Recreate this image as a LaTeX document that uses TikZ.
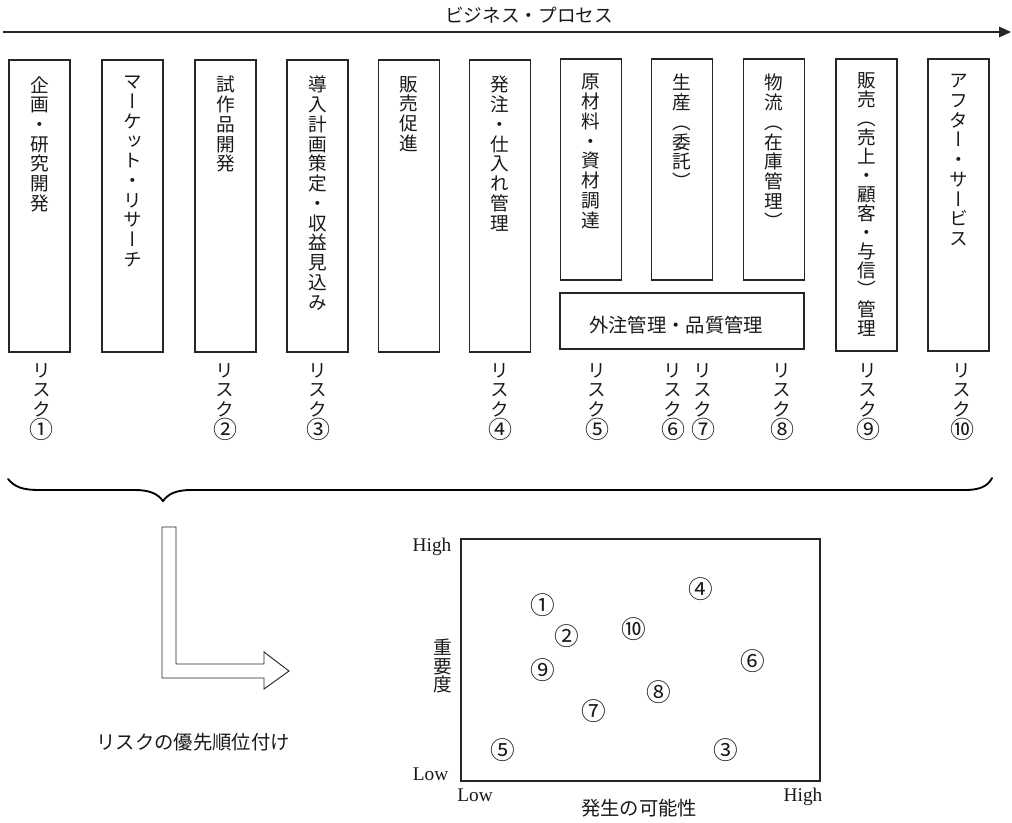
\documentclass[tikz,border=0pt]{standalone}
\usepackage{fontspec}
\setmainfont{Liberation Serif}
\newfontfamily\jp{Noto Sans CJK JP}
\newfontfamily\jpv{Noto Sans CJK JP}[RawFeature=+vert]
\usetikzlibrary{arrows.meta}
\newcommand{\bigc}[1]{{\fontsize{18}{14.8}\selectfont #1}}
\tikzset{
  pbox/.style={draw=black!85, line width=0.9pt, inner sep=0pt, minimum width=45.75pt, minimum height=219pt},
  vtxt/.style={font=\jpv\fontsize{14}{14.8}\selectfont, align=center, inner sep=0pt, anchor=north, text=black!90},
  jtxt/.style={font=\jp\fontsize{14}{16}\selectfont, inner sep=0pt, text=black!90},
  ltxt/.style={font=\fontsize{14.5}{16}\selectfont, inner sep=0pt, text=black!90},
  cnum/.style={font=\jp\fontsize{18.5}{20}\selectfont, inner sep=0pt, text=black!90},
  thin/.style={draw=black!85, line width=0.8pt}
}
\begin{document}
\begin{tikzpicture}[x=0.75pt,y=-0.75pt]
\useasboundingbox (0,0) rectangle (1012,822);

% process arrow
\coordinate (ps) at (3,32);
\coordinate (pe) at (1011,32);
\draw[thin, -{Triangle[length=9pt,width=8pt]}] (ps) -- (pe);
\node[jtxt] (title) at (529,15) {ビジネス・プロセス};

% process boxes
\node[pbox] (b1) at (39.5,206) {};
\node[pbox] (b2) at (132.5,206) {};
\node[pbox] (b3) at (225.5,206) {};
\node[pbox] (b4) at (317.5,206) {};
\node[pbox] (b5) at (409,206) {};
\node[pbox] (b6) at (500,206) {};
\node[pbox, minimum height=165.75pt] (b7) at (591,169.5) {};
\node[pbox, minimum height=165.75pt] (b8) at (682,169.5) {};
\node[pbox, minimum height=165.75pt] (b9) at (774,169.5) {};
\node[pbox, minimum width=183pt, minimum height=42pt] (bq) at (682,321) {};
\node[pbox] (b10) at (866.5,205) {};
\node[pbox] (b11) at (958.5,205) {};

\node[vtxt] (t1) at (39.5,76) {企\\画\\・\\研\\究\\開\\発};
\node[vtxt] (t2) at (132.5,76) {マ\\ー\\ケ\\ッ\\ト\\・\\リ\\サ\\ー\\チ};
\node[vtxt] (t3) at (225.5,76) {試\\作\\品\\開\\発};
\node[vtxt] (t4) at (317.5,76) {導\\入\\計\\画\\策\\定\\・\\収\\益\\見\\込\\み};
\node[vtxt] (t5) at (409,76) {販\\売\\促\\進};
\node[vtxt] (t6) at (500,76) {発\\注\\・\\仕\\入\\れ\\管\\理};
\node[vtxt] (t7) at (591,74) {原\\材\\料\\・\\資\\材\\調\\達};
\node[vtxt] (t8) at (682,74) {生\\産\\（\\委\\託\\）};
\node[vtxt] (t9) at (774,74) {物\\流\\（\\在\\庫\\管\\理\\）};
\node[vtxt, font=\jpv\fontsize{14}{14.3}\selectfont] (t10) at (866.5,72) {販\\売\\（\\売\\上\\・\\顧\\客\\・\\与\\信\\）\\管\\理};
\node[vtxt] (t11) at (958.5,74) {ア\\フ\\タ\\ー\\・\\サ\\ー\\ビ\\ス};
\node[jtxt, font=\jp\fontsize{14.5}{16}\selectfont] (tq) at (676,325) {外注管理・品質管理};

% risk labels
\node[vtxt] (r1) at (41.5,363) {リ\\ス\\ク\\\bigc{①}};
\node[vtxt] (r2) at (225,363) {リ\\ス\\ク\\\bigc{②}};
\node[vtxt] (r3) at (318,363) {リ\\ス\\ク\\\bigc{③}};
\node[vtxt] (r4) at (500,363) {リ\\ス\\ク\\\bigc{④}};
\node[vtxt] (r5) at (597,363) {リ\\ス\\ク\\\bigc{⑤}};
\node[vtxt] (r6) at (673,363) {リ\\ス\\ク\\\bigc{⑥}};
\node[vtxt] (r7) at (703,363) {リ\\ス\\ク\\\bigc{⑦}};
\node[vtxt] (r8) at (782,363) {リ\\ス\\ク\\\bigc{⑧}};
\node[vtxt] (r9) at (868,363) {リ\\ス\\ク\\\bigc{⑨}};
\node[vtxt] (r10) at (962,363) {リ\\ス\\ク\\\bigc{⑩}};

% brace
\draw[draw=black, line width=1.4pt, line cap=round]
  (8,479) .. controls (15,487) and (22,490) .. (40,490) -- (135,490)
  .. controls (150,490) and (158,494) .. (163,501)
  .. controls (168,494) and (176,490) .. (191,490) -- (965,490)
  .. controls (980,490) and (988,486) .. (992,478);

% hollow L arrow
\draw[thin, line width=0.7pt, line join=miter]
  (162,527) -- (176,527) -- (176,664) -- (264,664) -- (264,652) -- (289,671)
  -- (264,689) -- (264,678) -- (162,678) -- cycle;
\node[jtxt, font=\jp\fontsize{14.5}{16}\selectfont] (prio) at (193,742) {リスクの優先順位付け};

% chart
\node[draw=black!85, line width=1pt, inner sep=0pt, minimum width=269.25pt, minimum height=181.5pt] (chart) at (640.5,660) {};
\node[ltxt] (yh) at (432,547) {High};
\node[ltxt] (yl) at (430.5,774) {Low};
\node[ltxt] (xl) at (475,795) {Low};
\node[ltxt] (xh) at (803,797) {High};
\node[jtxt, font=\jp\fontsize{14.5}{16}\selectfont] (xlab) at (639,808) {発生の可能性};
\node[vtxt, anchor=center, font=\jpv\fontsize{14}{14.2}\selectfont] (ylab) at (443,666) {重\\要\\度};

\node[cnum] (c1) at (543,605) {①};
\node[cnum] (c2) at (567,636) {②};
\node[cnum] (c3) at (726,750) {③};
\node[cnum] (c4) at (701,589) {④};
\node[cnum] (c5) at (503,750) {⑤};
\node[cnum] (c6) at (753,661) {⑥};
\node[cnum] (c7) at (594,711) {⑦};
\node[cnum] (c8) at (659,692) {⑧};
\node[cnum] (c9) at (543,670) {⑨};
\node[cnum] (c10) at (634,629) {⑩};
\end{tikzpicture}
\end{document}
